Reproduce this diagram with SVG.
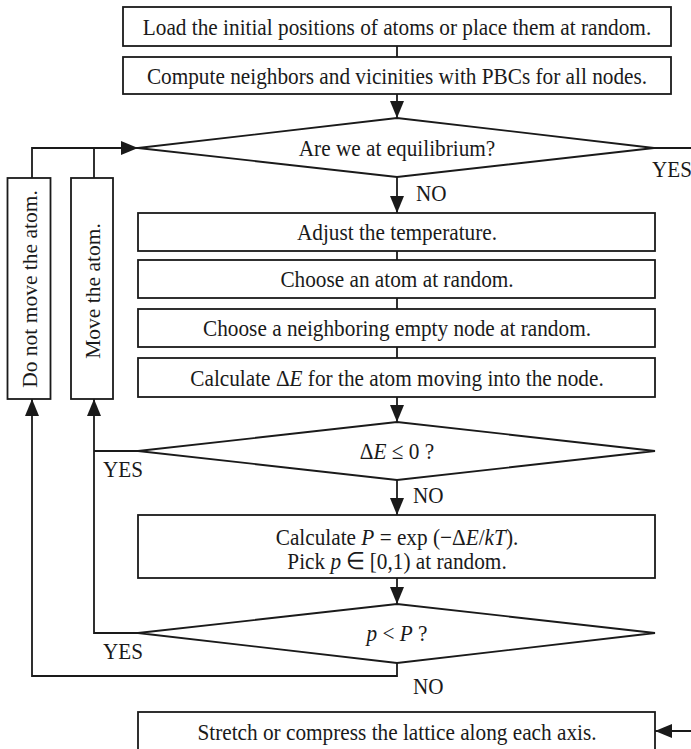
<svg xmlns="http://www.w3.org/2000/svg" width="691" height="749" viewBox="0 0 691 749">
<style>
.b{fill:#fff;stroke:#1a1a1a;stroke-width:1.8}
.t{font-family:"Liberation Serif","Times New Roman",serif;font-size:23.5px;fill:#1a1a1a;text-anchor:middle}
.l{font-family:"Liberation Serif","Times New Roman",serif;font-size:23.5px;fill:#1a1a1a}
.r{font-family:"Liberation Serif","Times New Roman",serif;font-size:21.5px;fill:#1a1a1a;text-anchor:middle}
.c{fill:none;stroke:#1a1a1a;stroke-width:1.8}
.i{font-style:italic}
</style>
<defs>
<marker id="ah" markerWidth="17" markerHeight="14" refX="17" refY="7" orient="auto" markerUnits="userSpaceOnUse"><path d="M0,0 L17,7 L0,14 Z" fill="#1a1a1a"/></marker>
</defs>
<rect width="691" height="749" fill="#fff"/>
<g id="connectors">
<path class="c" d="M397,46 V57"/>
<path class="c" d="M397,94 V118" marker-end="url(#ah)"/>
<path class="c" d="M654,148 H691"/>
<path class="c" d="M397,177 V213" marker-end="url(#ah)"/>
<path class="c" d="M397,251 V260"/>
<path class="c" d="M397,298 V309"/>
<path class="c" d="M397,347 V358"/>
<path class="c" d="M397,397 V422" marker-end="url(#ah)"/>
<path class="c" d="M397,480 V515" marker-end="url(#ah)"/>
<path class="c" d="M397,578 V604" marker-end="url(#ah)"/>
<path class="c" d="M138,451 H94"/>
<path class="c" d="M138,633 H94 V399" marker-end="url(#ah)"/>
<path class="c" d="M397,663 V676 H32 V399" marker-end="url(#ah)"/>
<path class="c" d="M32,178 V148 H138" marker-end="url(#ah)"/>
<path class="c" d="M94,178 V148"/>
<path class="c" d="M691,731 H655" marker-end="url(#ah)"/>
<text class="l" transform="translate(652 177) scale(0.9 1)">YES</text>
<text class="l" transform="translate(416 201) scale(0.9 1)">NO</text>
<text class="l" transform="translate(103 477) scale(0.9 1)">YES</text>
<text class="l" transform="translate(413 503) scale(0.9 1)">NO</text>
<text class="l" transform="translate(103 659) scale(0.9 1)">YES</text>
<text class="l" transform="translate(413 694) scale(0.9 1)">NO</text>
</g>
<g id="load">
<rect class="b" x="123" y="7" width="548" height="39"/>
<text class="t" transform="translate(397 35) scale(0.905 1)">Load the initial positions of atoms or place them at random.</text>
</g>
<g id="compute">
<rect class="b" x="123" y="57" width="548" height="37"/>
<text class="t" transform="translate(397 84) scale(0.905 1)">Compute neighbors and vicinities with PBCs for all nodes.</text>
</g>
<g id="equilibrium">
<polygon class="b" points="138,148 397,118 654,148 397,177"/>
<text class="t" transform="translate(397 156) scale(0.905 1)">Are we at equilibrium?</text>
</g>
<g id="adjust">
<rect class="b" x="138" y="213" width="517" height="38"/>
<text class="t" transform="translate(397 240) scale(0.905 1)">Adjust the temperature.</text>
</g>
<g id="choose-atom">
<rect class="b" x="138" y="260" width="517" height="38"/>
<text class="t" transform="translate(397 287) scale(0.905 1)">Choose an atom at random.</text>
</g>
<g id="choose-node">
<rect class="b" x="138" y="309" width="517" height="38"/>
<text class="t" transform="translate(397 336) scale(0.905 1)">Choose a neighboring empty node at random.</text>
</g>
<g id="calc-de">
<rect class="b" x="138" y="358" width="517" height="39"/>
<text class="t" transform="translate(397 386) scale(0.905 1)">Calculate Δ<tspan class="i">E</tspan> for the atom moving into the node.</text>
</g>
<g id="de-test">
<polygon class="b" points="138,451 397,422 655,451 397,480"/>
<text class="t" transform="translate(397 459) scale(0.905 1)">Δ<tspan class="i">E</tspan> ≤ 0 ?</text>
</g>
<g id="calc-p">
<rect class="b" x="138" y="515" width="517" height="63"/>
<text class="t" transform="translate(397 545) scale(0.905 1)">Calculate <tspan class="i">P</tspan> = exp (−Δ<tspan class="i">E</tspan>/<tspan class="i">kT</tspan>).</text>
<text class="t" transform="translate(397 569) scale(0.905 1)">Pick <tspan class="i">p</tspan> ∈ [0,1) at random.</text>
</g>
<g id="p-test">
<polygon class="b" points="138,633 397,604 655,633 397,663"/>
<text class="t" transform="translate(397 641) scale(0.905 1)"><tspan class="i">p</tspan> &lt; <tspan class="i">P</tspan> ?</text>
</g>
<g id="stretch">
<rect class="b" x="138" y="712" width="517" height="50"/>
<text class="t" transform="translate(397 740) scale(0.905 1)">Stretch or compress the lattice along each axis.</text>
</g>
<g id="do-not-move">
<rect class="b" x="7.5" y="178" width="43" height="221"/>
<text class="r" transform="translate(37 289) rotate(-90)">Do not move the atom.</text>
</g>
<g id="move">
<rect class="b" x="71" y="178" width="42" height="221"/>
<text class="r" transform="translate(100 291) rotate(-90)">Move the atom.</text>
</g>
</svg>
